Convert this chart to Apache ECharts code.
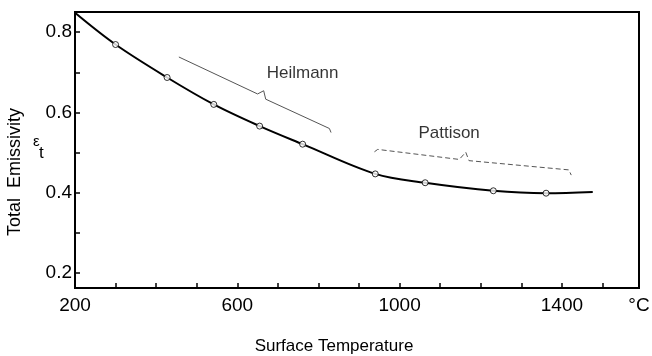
<!DOCTYPE html>
<html>
<head>
<meta charset="utf-8">
<script src="https://cdn.jsdelivr.net/npm/echarts@6/dist/echarts.min.js"></script>
<style>html,body{margin:0;padding:0;background:#fff}#c{width:652px;height:356px}</style>
</head>
<body>
<div id="c"></div>
<script>
// Measured points (circles)
const tempPoints = [300, 427, 542, 655, 761, 940, 1063, 1231, 1361];
const emisPoints = [0.769, 0.687, 0.620, 0.566, 0.521, 0.447, 0.425, 0.405, 0.399];
// Fitted curve
const tempCurve = [200, 300, 427, 542, 655, 761, 940, 1063, 1231, 1361, 1476];
const emisCurve = [0.848, 0.769, 0.687, 0.620, 0.566, 0.521, 0.447, 0.425, 0.405, 0.399, 0.402];
// Brackets
const heilmannX = [456, 650, 665, 670, 827, 831];
const heilmannY = [0.738, 0.646, 0.654, 0.633, 0.560, 0.550];
const pattisonX = [938, 946, 1147, 1163, 1171, 1417, 1423];
const pattisonY = [0.502, 0.508, 0.483, 0.501, 0.480, 0.457, 0.444];
// Annotation labels
const noteNames = ['Heilmann', 'Pattison'];
const noteX = [761, 1122];
const noteY = [0.698, 0.549];
// Axis ticks / labels
const xTicks = [200, 300, 400, 500, 600, 700, 800, 900, 1000, 1100, 1200, 1300, 1400, 1500];
const xLabels = [200, 600, 1000, 1400, 1590];
const yTicks = [0.2, 0.3, 0.4, 0.5, 0.6, 0.7, 0.8];
const yLabels = [0.2, 0.4, 0.6, 0.8];

const zip = (a, b) => a.map((v, i) => [v, b[i]]);
const FONT = 'Liberation Sans, Arial, sans-serif';

const chart = echarts.init(document.getElementById('c'));
chart.setOption({
  animation: false,
  backgroundColor: '#fff',
  grid: { left: 75, right: 13, top: 12, bottom: 68, containLabel: false, outerBoundsMode: 'none',
    show: true, borderColor: '#000', borderWidth: 2, backgroundColor: 'transparent' },
  xAxis: {
    type: 'value', min: 200, max: 1590,
    axisLine: { show: true, lineStyle: { color: '#000', width: 2 } },
    axisTick: { show: true, inside: true, length: 5, customValues: xTicks, lineStyle: { color: '#000', width: 1.5 } },
    axisLabel: { customValues: xLabels, color: '#000', fontSize: 19, fontFamily: FONT, margin: 8,
      formatter: v => v === 1590 ? '°C' : String(v) },
    splitLine: { show: false },
    name: 'Surface Temperature', nameLocation: 'middle', nameGap: 50,
    nameTextStyle: { color: '#000', fontSize: 17, fontFamily: FONT, padding: [0, 46, 0, 0] }
  },
  yAxis: {
    type: 'value', min: 0.163, max: 0.85,
    axisLine: { show: true, lineStyle: { color: '#000', width: 2 } },
    axisTick: { show: true, inside: true, length: 5, customValues: yTicks, lineStyle: { color: '#000', width: 1.5 } },
    axisLabel: { customValues: yLabels, color: '#000', fontSize: 19, fontFamily: FONT, margin: 3,
      formatter: v => v.toFixed(1) },
    splitLine: { show: false },
    name: 'Total  Emissivity', nameLocation: 'middle', nameGap: 51, nameRotate: 90,
    nameTextStyle: { color: '#000', fontSize: 18, fontFamily: FONT, padding: [0, 44, 0, 0] }
  },
  series: [
    { type: 'line', data: zip(tempCurve, emisCurve), smooth: 0.35, showSymbol: false,
      lineStyle: { color: '#000', width: 2 }, z: 3 },
    { type: 'scatter', data: zip(tempPoints, emisPoints), symbol: 'circle', symbolSize: 6,
      itemStyle: { color: '#fff', borderColor: '#000', borderWidth: 1 }, z: 4 },
    { type: 'line', data: zip(heilmannX, heilmannY), showSymbol: false,
      lineStyle: { color: '#555', width: 1 } },
    { type: 'line', data: zip(pattisonX, pattisonY), showSymbol: false,
      lineStyle: { color: '#555', width: 1, type: [5, 3] } },
    { type: 'scatter', data: noteNames.map((n, i) => ({ name: n, value: [noteX[i], noteY[i]] })),
      symbolSize: 0,
      label: { show: true, position: 'inside', formatter: p => p.name, color: '#000', fontSize: 17, fontFamily: FONT } }
  ],
  graphic: [
    { type: 'text', left: 33, top: 134, style: { text: 'ε', fontSize: 15, fontFamily: FONT, fill: '#000' } },
    { type: 'text', left: 39, top: 145, style: { text: 't', fontSize: 17, fontFamily: FONT, fill: '#000' } }
  ]
});
</script>
</body>
</html>
